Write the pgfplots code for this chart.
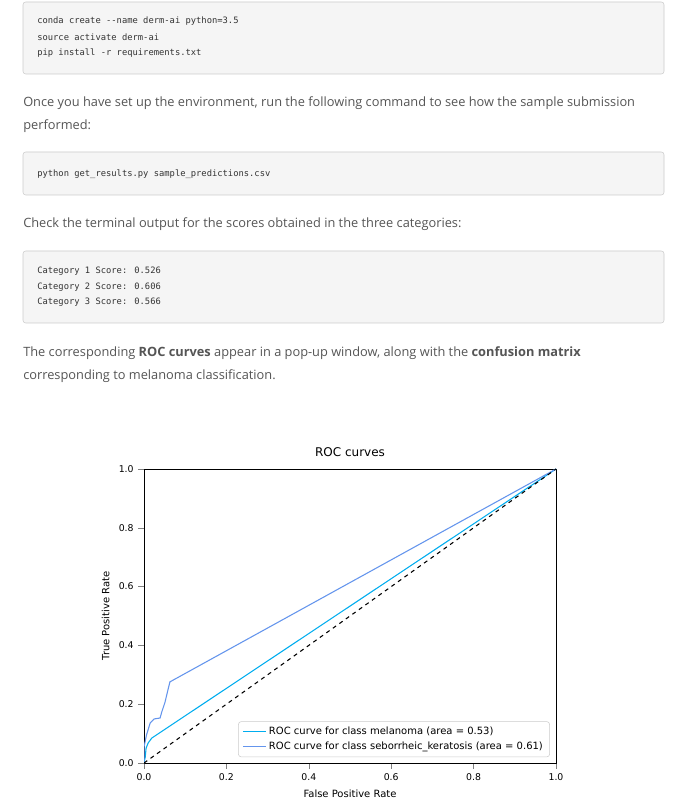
\documentclass[border=0pt]{standalone}
\usepackage{pgfplots}
\pgfplotsset{compat=1.18}
\usepackage{fontspec}
\setmainfont{Open Sans}
\newfontfamily\codefont{DejaVu Sans Mono}
\newfontfamily\mplfont{DejaVu Sans}
\definecolor{txt}{HTML}{555555}
\definecolor{codebg}{HTML}{F5F5F5}
\definecolor{codebd}{HTML}{CCCCCC}
\definecolor{mblue}{HTML}{6495ED}
\begin{document}
\begin{tikzpicture}
\begin{scope}[x=0.75pt,y=-0.75pt,yshift=603.75pt]
\fill[white] (0,0) rectangle (674,805);
\draw[codebd,fill=codebg,rounded corners=2pt] (23,2) rectangle (664,74);
\draw[codebd,fill=codebg,rounded corners=2pt] (23,152) rectangle (664,195);
\draw[codebd,fill=codebg,rounded corners=2pt] (23,251) rectangle (664,323);
\begin{scope}[every node/.style={anchor=west,inner sep=0pt,font=\codefont\fontsize{6.6}{8}\selectfont,text=black!80}]
\node at (37,21) {conda create --name derm-ai python=3.5};
\node at (37,37) {source activate derm-ai};
\node at (37,53) {pip install -r requirements.txt};
\node at (37,174) {python get\_results.py sample\_predictions.csv};
\node at (37,271) {Category 1 Score: 0.526};
\node at (37,287) {Category 2 Score: 0.606};
\node at (37,302) {Category 3 Score: 0.566};
\end{scope}
\begin{scope}[every node/.style={anchor=west,inner sep=0pt,font=\fontsize{9.6}{12}\selectfont,text=txt}]
\node at (23,103) {Once you have set up the environment, run the following command to see how the sample submission};
\node at (23,126) {performed:};
\node at (23,224) {Check the terminal output for the scores obtained in the three categories:};
\node at (23,353) {The corresponding \textbf{ROC curves} appear in a pop-up window, along with the \textbf{confusion matrix}};
\node at (23,376) {corresponding to melanoma classification.};
\end{scope}
\end{scope}
\begin{axis}[at={(108pt,31.5pt)},anchor=south west,scale only axis,
 width=309pt,height=220.5pt,xmin=0,xmax=1,ymin=0,ymax=1,
 xtick={0,0.2,0.4,0.6,0.8,1},ytick={0,0.2,0.4,0.6,0.8,1},
 tick align=outside,tick pos=left,
 xticklabel style={/pgf/number format/.cd,fixed,fixed zerofill,precision=1},
 yticklabel style={/pgf/number format/.cd,fixed,fixed zerofill,precision=1},
 /pgf/number format/assume math mode=true,
 tick label style={font=\mplfont\fontsize{7}{8}\selectfont},
 label style={font=\mplfont\fontsize{7.5}{9}\selectfont},
 title style={font=\mplfont\fontsize{9}{11}\selectfont},
 title={ROC curves},xlabel={False Positive Rate},ylabel={True Positive Rate},
 legend style={at={(0.985,0.02)},anchor=south east,font=\mplfont\fontsize{7.5}{9}\selectfont,draw=black!20,rounded corners=2pt,cells={anchor=west}},
 legend cell align=left]
\addplot[cyan,thick] coordinates {(0,0) (0.003,0.02) (0.005,0.05) (0.01,0.068) (0.019,0.085) (1,1)};
\addlegendentry{ROC curve for class melanoma (area = 0.53)}
\addplot[mblue,thick] coordinates {(0,0) (0,0.054) (0.006,0.095) (0.015,0.136) (0.025,0.15) (0.039,0.153) (0.043,0.173) (0.051,0.207) (0.058,0.248) (0.063,0.276) (1,1)};
\addlegendentry{ROC curve for class seborrheic\_keratosis (area = 0.61)}
\addplot[black,thick,dashed,forget plot] coordinates {(0,0) (1,1)};
\end{axis}
\end{tikzpicture}
\end{document}
